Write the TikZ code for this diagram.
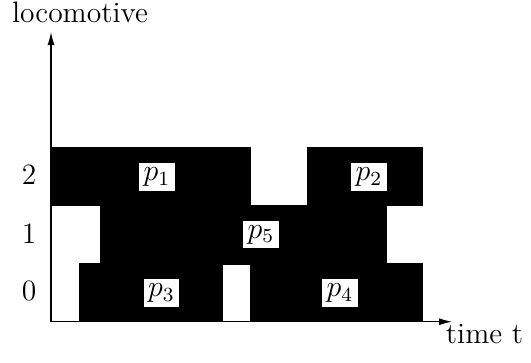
\documentclass[tikz,border=0pt]{standalone}
\usetikzlibrary{arrows.meta}
\begin{document}
\begin{tikzpicture}[x=0.4pt,y=-0.4pt,
  every node/.style={font=\fontsize{11.8}{14}\selectfont},
  block/.style={fill=black,draw=none},
  plabel/.style={fill=white,inner sep=1.8pt},
  axis/.style={line width=0.45pt,-{Latex[length=5.2pt,width=2.8pt]}},
  tick/.style={anchor=base}]
\useasboundingbox (0,0) rectangle (531,362);
% blocks
\fill[block] (51,147) rectangle (251,205.7);
\fill[block] (307,147) rectangle (423.3,205.7);
\fill[block] (100,205) rectangle (386.7,265);
\fill[block] (79,263.3) rectangle (223,321.7);
\fill[block] (250,263.3) rectangle (423.3,321.7);
% axes
\coordinate (O) at (51,321.7);
\coordinate (Ytip) at (51,32);
\coordinate (Xtip) at (452,321.7);
\draw[axis] (O) -- (Ytip);
\draw[axis] (O) -- (Xtip);
% labels
\node[plabel] (p1) at (157,177) {$p_1$};
\node[plabel] (p2) at (369,177) {$p_2$};
\node[plabel] (p5) at (261,234.5) {$p_5$};
\node[plabel] (p3) at (161.5,293) {$p_3$};
\node[plabel] (p4) at (340,293) {$p_4$};
% ticks
\node[tick] (t2) at (29,184) {2};
\node[tick] (t1) at (29,243) {1};
\node[tick] (t0) at (29,300.5) {0};
% axis titles
\node[anchor=base] (ylab) at (80,22.7) {locomotive};
\node[anchor=base] (xlab) at (484.5,343) {time t};
\end{tikzpicture}
\end{document}
